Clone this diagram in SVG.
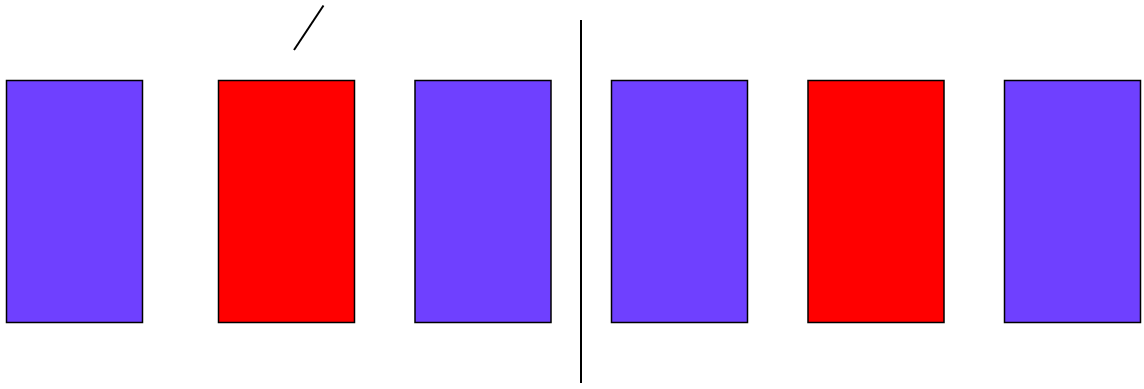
<svg xmlns="http://www.w3.org/2000/svg" width="1144" height="389" viewBox="0 0 1144 389">
<style>
.b{fill:#6f40ff;stroke:#000;stroke-width:1.5}
.r{fill:#ff0000;stroke:#000;stroke-width:1.5}
.l{stroke:#000;stroke-width:2;fill:none}
</style>
<rect width="1144" height="389" fill="#fff"/>
<g id="n1"><rect class="b" x="6.5" y="80.5" width="136" height="242"/></g>
<g id="n2"><rect class="r" x="218.5" y="80.5" width="136" height="242"/></g>
<g id="n3"><rect class="b" x="415" y="80.5" width="136" height="242"/></g>
<g id="n4"><rect class="b" x="611.5" y="80.5" width="136" height="242"/></g>
<g id="n5"><rect class="r" x="808" y="80.5" width="136" height="242"/></g>
<g id="n6"><rect class="b" x="1004.5" y="80.5" width="136" height="242"/></g>
<g id="connectors">
<line class="l" x1="581" y1="20" x2="581" y2="383"/>
<line class="l" x1="294" y1="50" x2="323.5" y2="5.5"/>
</g>
</svg>
